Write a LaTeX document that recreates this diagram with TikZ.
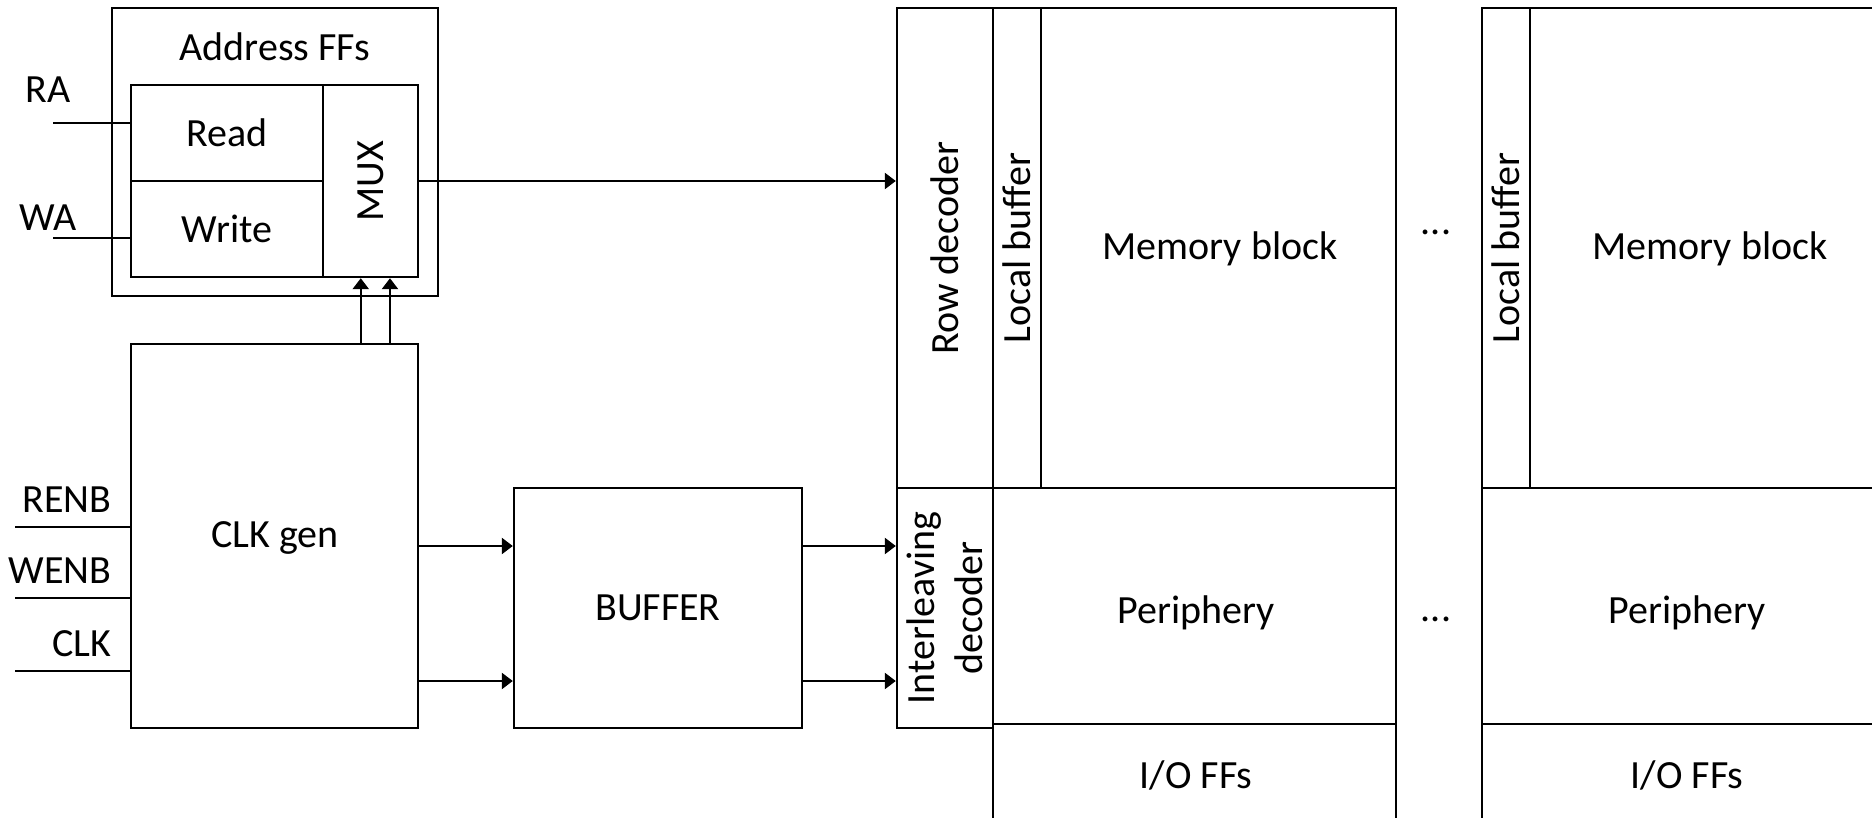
\documentclass[tikz,border=0pt]{standalone}
\usepackage{fontspec}
\setmainfont{Carlito}
\usetikzlibrary{arrows.meta,fit,calc}

\begin{document}
\begin{tikzpicture}[x=0.5pt, y=-0.5pt, line width=1.2pt,
    font=\fontsize{20}{24}\selectfont,
    >={Triangle[length=5.5pt,width=8pt]},
    blk/.style={draw, inner sep=0pt, fit={#1}},
    vlbl/.style={rotate=90, align=center},
    arr/.style={->}]
    \useasboundingbox (0,0) rectangle (1872,818);

    % Address FFs
    \node[blk={(112,8) (438,296)}] (addr) {};
    \node (addrlbl) at (275,47) {Address FFs};
    \node[blk={(131,85) (323,181)}] (read) {};
    \node (readlbl) at (read) {Read};
    \node[blk={(131,181) (323,277)}] (write) {};
    \node (writelbl) at (write) {Write};
    \node[blk={(323,85) (418,277)}] (mux) {};
    \node[vlbl] (muxlbl) at (mux) {MUX};

    % RA / WA inputs
    \coordinate (ra) at (53,123);
    \coordinate (wa) at (53,238);
    \draw (ra) -- (ra -| read.west);
    \draw (wa) -- (wa -| write.west);
    \node (ralbl) at (48,90) {RA};
    \node (walbl) at (48,218) {WA};

    % clock generator and buffer
    \node[blk={(131,344) (418,728)}] (clkgen) {};
    \node (clklbl) at (275,538) {CLK gen};
    \node[blk={(514,488) (802,728)}] (buffer) {};
    \node (buflbl) at (buffer) {BUFFER};

    \foreach \sig/\y in {RENB/527, WENB/598, CLK/671} {
        \coordinate (in\sig) at (15,\y);
        \draw (in\sig) -- (in\sig -| clkgen.west);
        \node[anchor=east] (lbl\sig) at (119,\y-27) {\sig};
    }

    % clock lines into the MUX
    \coordinate (m1) at ($(mux.south west)!0.4!(mux.south east)$);
    \coordinate (m2) at ($(mux.south west)!0.7!(mux.south east)$);
    \draw[arr] (clkgen.north -| m1) -- (m1);
    \draw[arr] (clkgen.north -| m2) -- (m2);

    % memory bank 1
    \node[blk={(897,8) (993,488)}] (rowdec) {};
    \node[vlbl] (rowlbl) at (rowdec) {Row decoder};
    \node[blk={(993,8) (1041,488)}] (lbuf1) {};
    \node[vlbl] (lbuf1lbl) at (lbuf1) {Local buffer};
    \node[blk={(1041,8) (1396,488)}] (mem1) {};
    \node (mem1lbl) at (1220,249) {Memory block};
    \node[blk={(897,488) (993,728)}] (ildec) {};
    \node[vlbl] (illbl) at (ildec) {Interleaving\\decoder};
    \node[blk={(993,488) (1396,724)}] (peri1) {};
    \node (peri1lbl) at (1196,613) {Periphery};
    \draw (993,724) -- (993,818);
    \draw (1396,724) -- (1396,818);
    \node (io1) at (1196,775) {I/O FFs};

    % connections
    \coordinate (ck1) at (0,546);
    \coordinate (ck2) at (0,681);
    \draw[arr] (mux.east) -- (rowdec.west |- mux.east);
    \draw[arr] (clkgen.east |- ck1) -- (buffer.west |- ck1);
    \draw[arr] (clkgen.east |- ck2) -- (buffer.west |- ck2);
    \draw[arr] (buffer.east |- ck1) -- (ildec.west |- ck1);
    \draw[arr] (buffer.east |- ck2) -- (ildec.west |- ck2);

    % dots
    \node (dots1) at (1436,232) {...};
    \node (dots2) at (1436,619) {...};

    % memory bank n (cut at the right edge)
    \node[blk={(1482,8) (1530,488)}] (lbuf2) {};
    \node[vlbl] (lbuf2lbl) at (lbuf2) {Local buffer};
    \draw (1530,8) -- (1872,8);
    \draw (1482,488) -- (1872,488);
    \draw (1482,488) -- (1482,818);
    \draw (1482,724) -- (1872,724);
    \node (mem2) at (1710,249) {Memory block};
    \node (peri2) at (1687,613) {Periphery};
    \node (io2) at (1687,775) {I/O FFs};
\end{tikzpicture}
\end{document}
